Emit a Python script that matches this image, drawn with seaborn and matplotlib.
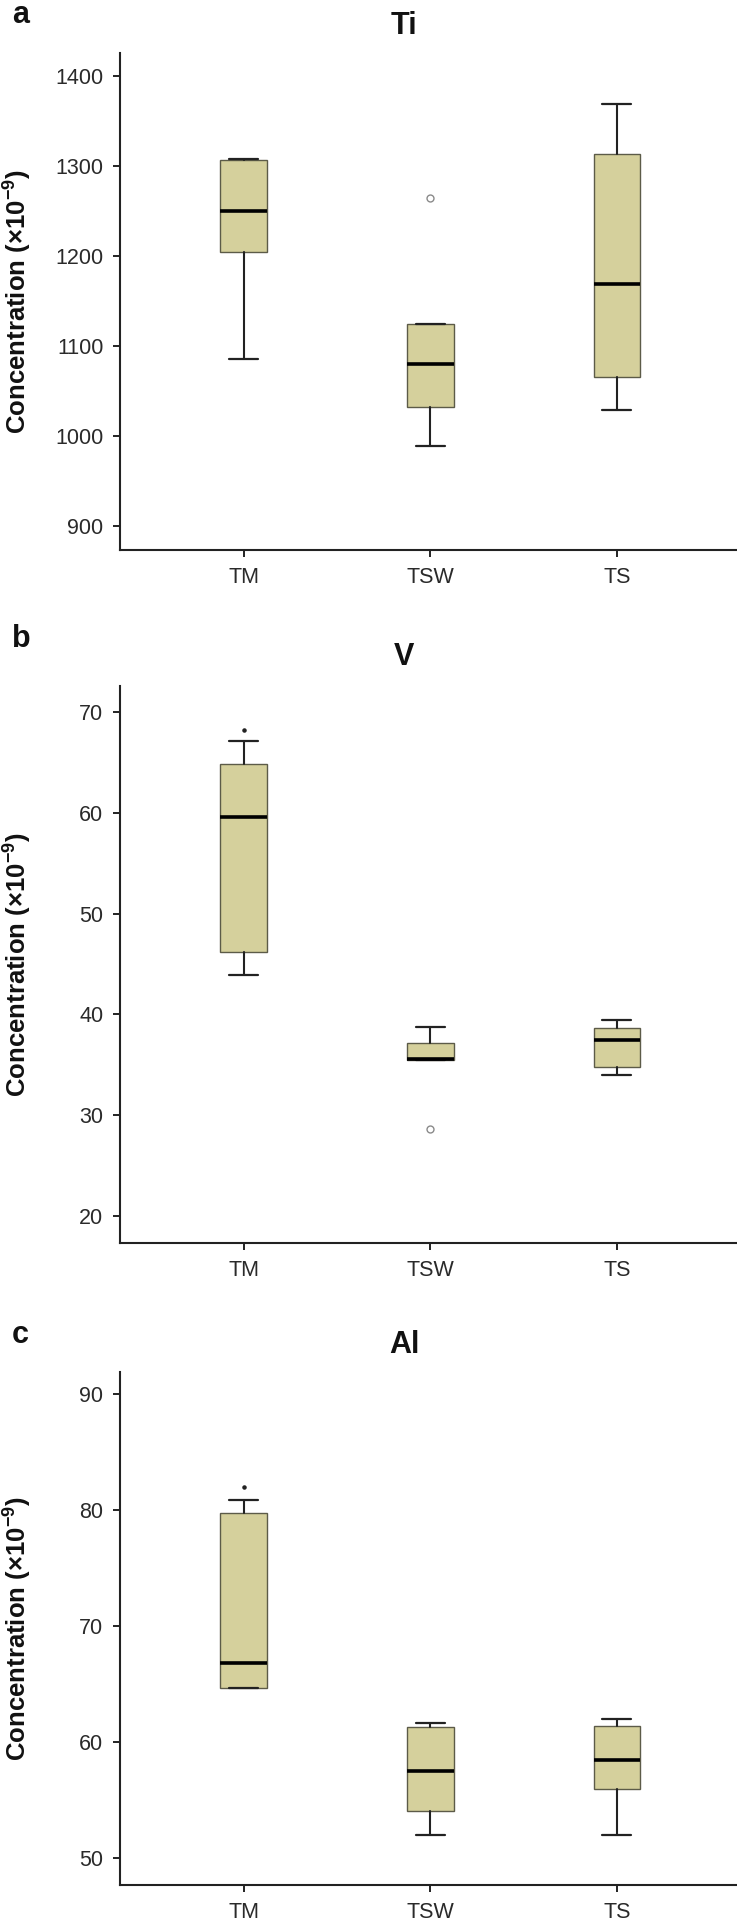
# Boxplots of Ti, V and Al concentrations for TM / TSW / TS
import matplotlib
matplotlib.use("Agg")
import matplotlib.pyplot as plt
import seaborn as sns

sns.set_theme(style="ticks")
plt.rcParams['font.family'] = ['Liberation Sans', 'DejaVu Sans']
plt.rcParams['mathtext.fontset'] = 'custom'
plt.rcParams['mathtext.bf'] = 'Liberation Sans:bold'
plt.rcParams['mathtext.rm'] = 'Liberation Sans:bold'
plt.rcParams['mathtext.default'] = 'bf'

groups = ["TM", "TSW", "TS"]

# Ti (x10^-9)
ti_whislo = [1085, 989, 1029]
ti_q1 = [1205, 1032, 1066]
ti_med = [1250, 1080.5, 1169]
ti_q3 = [1307, 1125, 1314]
ti_whishi = [1308, 1125, 1369]
ti_fliers = [[], [1265], []]
ti_dots = [[], [], []]

# V (x10^-9)
v_whislo = [43.9, 35.5, 34.0]
v_q1 = [46.2, 35.5, 34.8]
v_med = [59.6, 35.6, 37.5]
v_q3 = [64.9, 37.2, 38.6]
v_whishi = [67.1, 38.7, 39.4]
v_fliers = [[], [28.6], []]
v_dots = [[68.2], [], []]

# Al (x10^-9)
al_whislo = [64.7, 52.0, 52.0]
al_q1 = [64.7, 54.1, 56.0]
al_med = [66.8, 57.5, 58.5]
al_q3 = [79.75, 61.3, 61.4]
al_whishi = [80.9, 61.7, 62.0]
al_fliers = [[], [], []]
al_dots = [[81.95], [], []]

FILL = '#d5d09c'
EDGE = '#5c5b48'
W, H = 737, 1927


def rect(top, bottom, left=120, right=737):
    return [left / W, 1 - bottom / H, (right - left) / W, (bottom - top) / H]


def box_panel(ax, whislo, q1, med, q3, whishi, fliers, dots, ylim, yticks):
    stats = []
    for i, g in enumerate(groups):
        stats.append(dict(label=g, whislo=whislo[i], q1=q1[i], med=med[i],
                          q3=q3[i], whishi=whishi[i], fliers=fliers[i]))
    ax.bxp(stats, positions=range(len(groups)), widths=0.25, capwidths=0.155,
           patch_artist=True, showfliers=True,
           boxprops=dict(facecolor=FILL, edgecolor=EDGE, linewidth=1.0),
           medianprops=dict(color='black', linewidth=2.6, solid_capstyle='butt'),
           whiskerprops=dict(color='#222222', linewidth=1.5),
           capprops=dict(color='#222222', linewidth=1.6),
           flierprops=dict(marker='o', markersize=5, markerfacecolor='white',
                           markeredgecolor='#8a8a8a', markeredgewidth=1.0))
    for i, d in enumerate(dots):
        if d:
            ax.scatter([i] * len(d), d, s=5, color='#222222', zorder=5)
    ax.set_xlim(-0.662, 2.643)
    ax.set_ylim(*ylim)
    ax.set_yticks(yticks)
    ax.set_xticks(range(len(groups)))
    ax.set_xticklabels(groups)
    sns.despine(ax=ax)
    for s in ['left', 'bottom']:
        ax.spines[s].set_linewidth(1.5)
        ax.spines[s].set_color('#222222')
    ax.tick_params(axis='both', length=5, width=1.4, color='#222222',
                   labelsize=15.5, labelcolor='#2a2a2a', pad=7)
    ax.grid(False)


fig = plt.figure(figsize=(W / 100, H / 100), dpi=100)

panels = [
    ("a", "Ti", 53, 550, (ti_whislo, ti_q1, ti_med, ti_q3, ti_whishi, ti_fliers, ti_dots),
     (873, 1426), [900, 1000, 1100, 1200, 1300, 1400], 15, 26),
    ("b", "V", 686, 1243, (v_whislo, v_q1, v_med, v_q3, v_whishi, v_fliers, v_dots),
     (17.3, 72.6), [20, 30, 40, 50, 60, 70], 639, 657),
    ("c", "Al", 1372, 1885, (al_whislo, al_q1, al_med, al_q3, al_whishi, al_fliers, al_dots),
     (47.7, 91.9), [50, 60, 70, 80, 90], 1335, 1345),
]

for letter, title, top, bottom, data, ylim, yticks, ly, ty in panels:
    ax = fig.add_axes(rect(top, bottom))
    box_panel(ax, *data, ylim=ylim, yticks=yticks)
    fig.text(12 / W, 1 - ly / H, letter, fontsize=22, fontweight='bold',
             ha='left', va='center', color='#111111')
    fig.text(404 / W, 1 - ty / H, title, fontsize=22, fontweight='bold',
             ha='center', va='center', color='#111111')
    fig.text(18 / W, 1 - (top + bottom) / 2 / H, r"Concentration (×10$^{-9}$)",
             fontsize=18.5, fontweight='bold', rotation=90,
             ha='center', va='center', color='#111111')

fig.savefig("out.png", dpi=100)
plt.close(fig)
